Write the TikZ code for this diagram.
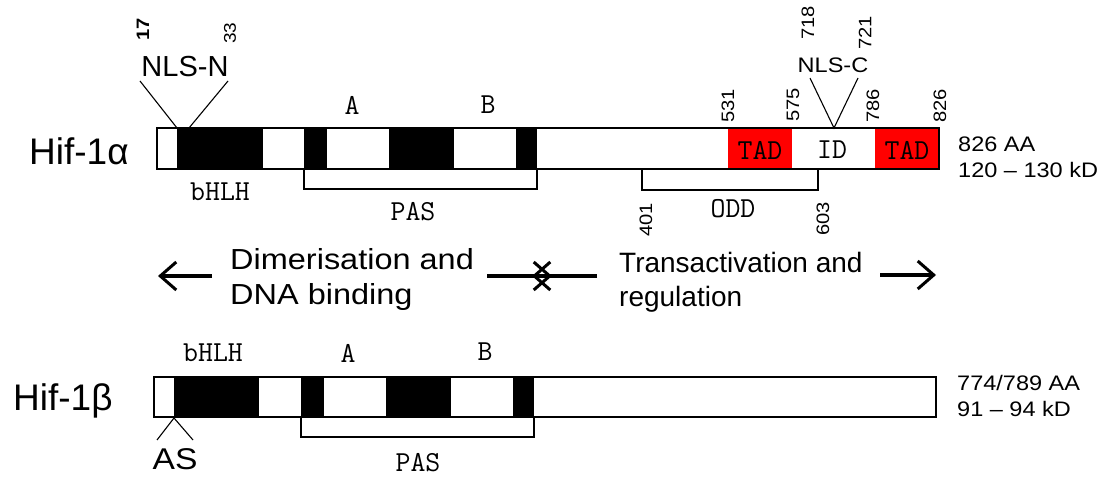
\documentclass[tikz,border=0pt]{standalone}
\usepackage{fontspec}
\setmainfont{Liberation Sans}
\newfontfamily\widesans{Liberation Sans}[FakeStretch=1.12]
\usetikzlibrary{arrows.meta}
\begin{document}
\begin{tikzpicture}[x=1pt,y=-1pt,
  outline/.style={draw=black, line width=1.3pt},
  blk/.style={fill=black},
  tadfill/.style={fill=red},
  bracket/.style={draw=black, line width=1.3pt},
  pin/.style={draw=black, line width=1.1pt},
  lbl/.style={font=\ttfamily\fontsize{29}{29}\selectfont, inner sep=0pt},
  num/.style={font=\widesans\fontsize{18}{18}\selectfont, rotate=90, inner sep=0pt, anchor=west},
  numdown/.style={font=\widesans\fontsize{18}{18}\selectfont, rotate=90, inner sep=0pt, anchor=east},
  prot/.style={font=\fontsize{37}{37}\selectfont, inner sep=0pt, anchor=base west},
  info/.style={font=\widesans\fontsize{21}{21}\selectfont, inner sep=0pt, anchor=base west},
  rowtxt/.style={font=\widesans\fontsize{29}{29}\selectfont, inner sep=0pt, anchor=base west},
  rowtxtb/.style={font=\fontsize{28}{28}\selectfont, inner sep=0pt, anchor=base west},
  rowarrow/.style={line width=3.8pt, -{Straight Barb[length=16pt,width=28pt,line width=3pt]}}
]
\useasboundingbox (0,0) rectangle (1104,478);

% ---------------- Hif-1 alpha ----------------
\node[prot] (hifA) at (29,165) {Hif-1α};
\fill[blk] (177,128) rectangle (263,169);
\fill[blk] (304,128) rectangle (327,169);
\fill[blk] (389,128) rectangle (454,169);
\fill[blk] (516,128) rectangle (537,169);
\fill[tadfill] (728,128) rectangle (792,169);
\fill[tadfill] (875,128) rectangle (939,169);
\draw[outline] (157,128) rectangle (939,169);
\node[lbl] (tad1) at (760,150) {TAD};
\node[lbl] (idl) at (832,150) {ID};
\node[lbl] (tad2) at (907,150) {TAD};
\node[lbl] (bhlhA) at (220,192) {bHLH};
\node[lbl] (aA) at (352,105) {A};
\node[lbl] (bA) at (488,105) {B};
\draw[bracket] (304,169) -- (304,189) -- (537,189) -- (537,169);
\node[lbl] (pasA) at (413,212) {PAS};
\draw[bracket] (642,169) -- (642,190) -- (818,190) -- (818,169);
\node[lbl] (odd) at (733,209) {ODD};
\node[numdown] (n401) at (646,203) {401};
\node[numdown] (n603) at (823,202) {603};

% NLS-N
\node[font=\fontsize{29}{29}\selectfont, inner sep=0pt, anchor=base] (nlsN) at (185,77) {NLS-N};
\coordinate (nnL) at (140,81);
\coordinate (nnR) at (228,81);
\coordinate (nnA) at (177,128);
\coordinate (nnB) at (189,128);
\draw[pin] (nnL) -- (nnA);
\draw[pin] (nnR) -- (nnB);
\node[num, font=\widesans\bfseries\fontsize{18}{18}\selectfont] (n17) at (143,41) {17};
\node[num, font=\widesans\fontsize{17}{17}\selectfont] (n33) at (230,44) {33};

% NLS-C
\node[font=\widesans\fontsize{21}{21}\selectfont, inner sep=0pt, anchor=base] (nlsC) at (833,73) {NLS-C};
\coordinate (ncL) at (810,78);
\coordinate (ncR) at (858,78);
\coordinate (ncA) at (834,128);
\draw[pin] (ncL) -- (ncA) -- (ncR);
\node[num] (n718) at (808,40) {718};
\node[num] (n721) at (865,50) {721};
\node[num] (n531) at (728,123) {531};
\node[num] (n575) at (793,122) {575};
\node[num] (n786) at (873,123) {786};
\node[num] (n826) at (940,123) {826};

\node[info] (aaA) at (958,152) {826 AA};
\node[info] (kdA) at (958,178) {120 – 130 kD};

% ---------------- middle row ----------------
\coordinate (la1) at (212,276);
\coordinate (la2) at (158,276);
\draw[rowarrow] (la1) -- (la2);
\node[rowtxt] (dim1) at (230,270) {Dimerisation and};
\node[rowtxt] (dim2) at (230,305) {DNA binding};
\coordinate (ma1) at (487,276);
\coordinate (ma2) at (552,276);
\coordinate (mb1) at (597,276);
\coordinate (mb2) at (532,276);
\draw[rowarrow] (ma1) -- (ma2);
\draw[rowarrow] (mb1) -- (mb2);
\node[rowtxtb] (tr1) at (619,273) {Transactivation and};
\node[rowtxtb] (tr2) at (619,307) {regulation};
\coordinate (ra1) at (880,275);
\coordinate (ra2) at (936,275);
\draw[rowarrow] (ra1) -- (ra2);

% ---------------- Hif-1 beta ----------------
\node[prot] (hifB) at (13,410) {Hif-1β};
\fill[blk] (174,377) rectangle (259,417);
\fill[blk] (301,377) rectangle (324,417);
\fill[blk] (386,377) rectangle (451,417);
\fill[blk] (513,377) rectangle (534,417);
\draw[outline] (154,377) rectangle (936,417);
\node[lbl] (bhlhB) at (213,353) {bHLH};
\node[lbl] (aB) at (348,353) {A};
\node[lbl] (bB) at (485,352) {B};
\draw[bracket] (301,417) -- (301,437) -- (534,437) -- (534,417);
\node[lbl] (pasB) at (418,463) {PAS};
\coordinate (asA) at (174,418);
\coordinate (asL) at (157,440);
\coordinate (asR) at (193,440);
\draw[pin] (asL) -- (asA) -- (asR);
\node[font=\widesans\fontsize{30}{30}\selectfont, inner sep=0pt, anchor=base] (as) at (175,470) {AS};
\node[info] (aaB) at (957,391) {774/789 AA};
\node[info] (kdB) at (957,417) {91 – 94 kD};
\end{tikzpicture}
\end{document}
